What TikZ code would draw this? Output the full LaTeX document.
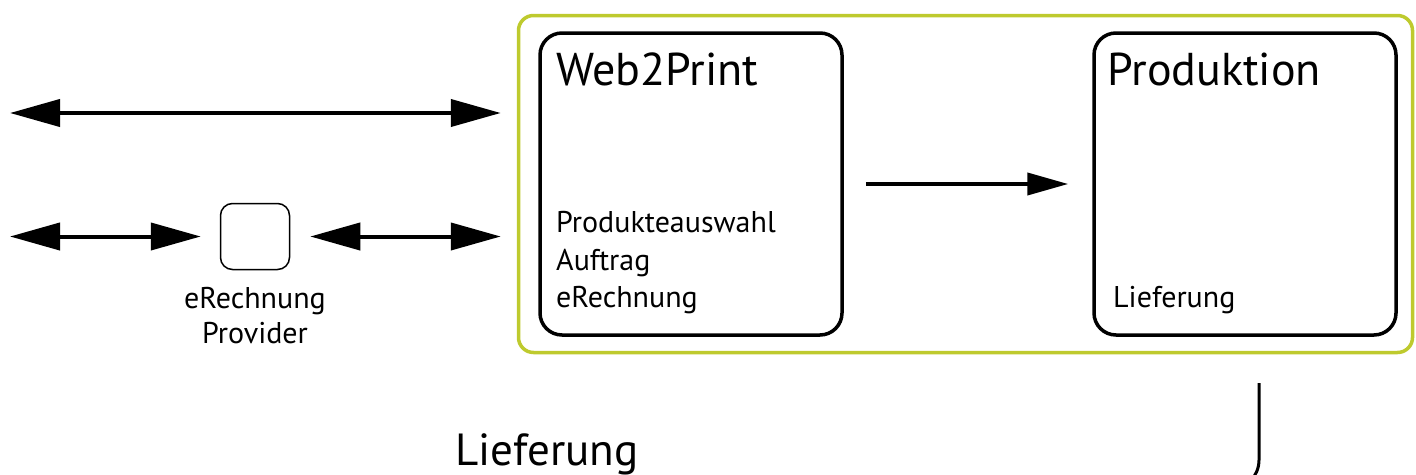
\documentclass[tikz,border=0pt]{standalone}
\usepackage{fontspec}
\setmainfont{PT Sans}
\usetikzlibrary{arrows.meta,positioning}
\definecolor{limegreen}{RGB}{190,202,46}

\begin{document}
\begin{tikzpicture}[x=1pt,y=-1pt,
  >={Triangle[length=50pt,width=27pt]},
  bigbox/.style={draw,line width=3.5pt,rounded corners=22pt,minimum width=302pt,minimum height=302pt,inner sep=0pt},
  title/.style={anchor=base west,inner sep=0pt,font=\fontsize{46}{56}\selectfont},
  item/.style={anchor=base west,inner sep=0pt,font=\fontsize{30}{36}\selectfont},
  link/.style={line width=4pt}]
  \useasboundingbox (0,0) rectangle (1416,474);
  \clip (0,0) rectangle (1416,474);

  % Rahmen und Kaesten
  \node[draw=limegreen,line width=3.5pt,rounded corners=15pt,minimum width=894pt,minimum height=337pt,inner sep=0pt] (gruen) at (965.5,184) {};
  \node[bigbox] (web2print) at (691,184) {};
  \node[bigbox] (produktion) at (1245,184) {};
  \node[draw,line width=1.5pt,rounded corners=12pt,minimum width=69pt,minimum height=66pt,inner sep=0pt] (provider) at (255,236.5) {};

  % Beschriftung
  \node[title] (w2ptitle) at (556,85) {Web2Print};
  \node[title] (prodtitle) at (1107,85) {Produktion};
  \foreach \y/\txt in {232/Produkteauswahl,270/Auftrag,307/eRechnung}{
    \node[item] (w2p\y) at (556,\y) {\txt};
  }
  \node[item] (prodlief) at (1113,307) {Lieferung};
  \node[item,anchor=base] (provlbl1) at (255,308) {eRechnung};
  \node[item,anchor=base] (provlbl2) at (255,343) {Provider};
  \node[title,font=\fontsize{45}{52}\selectfont] (lieferung) at (455,465) {Lieferung};

  % Pfeile
  \coordinate (topL) at (10,113);
  \coordinate (botL) at (10,236.5);
  \draw[link,<->,shorten >=16pt] (topL) -- (topL -| gruen.west);
  \draw[link,<->,shorten >=19pt] (botL) -- (provider.west);
  \draw[link,<->,shorten <=20pt,shorten >=16pt] (provider.east) -- (provider.east -| gruen.west);
  \draw[link,-{Triangle[length=41pt,width=22pt]},shorten <=22pt,shorten >=24pt] (web2print) -- (produktion);

  % Lieferweg
  \coordinate (liefTop) at (1259,383);
  \draw[line width=3pt,rounded corners=30pt] (liefTop) -- (1259,490) -- (1100,490);
\end{tikzpicture}
\end{document}
